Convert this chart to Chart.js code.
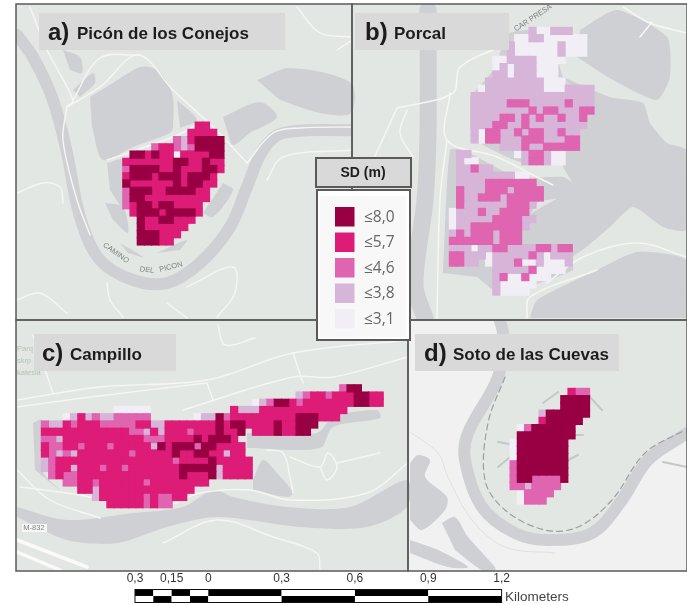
<!DOCTYPE html>
<html><head><meta charset="utf-8">
<style>html,body{margin:0;padding:0;background:#fff}canvas{display:block;filter:blur(0.45px)}</style>
<script src="https://cdn.jsdelivr.net/npm/chart.js@4"></script>
</head><body><canvas id="c" width="687" height="605"></canvas>
<script>
// ---------- DATA: SD class of every raster cell, per site (row = [first column, classes]) ----------
const classLabels = ['≤3,1','≤3,8','≤4,6','≤5,7','≤8,0'];
const classColors = ['#f1eef6','#d7b5d8','#df65b0','#dd1c77','#980043'];
const panelTitles = [['a)','Picón de los Conejos'],['b)','Porcal'],['c)','Campillo'],['d)','Soto de las Cuevas']];
const legendTitle = 'SD (m)';
const scaleKm = [-0.3,-0.225,-0.15,-0.075,0,0.3,0.6,0.9,1.2];
const scaleTicks = [[-0.3,'0,3'],[-0.15,'0,15'],[0,'0'],[0.3,'0,3'],[0.6,'0,6'],[0.9,'0,9'],[1.2,'1,2']];
const scaleUnit = 'Kilometers';

const picon = [
[10,"44"],[9,"4444"],[7,"3245555"],[4,"3443235555"],[1,"5545441444455"],[0,"44444445544544"],
[0,"35555445444554"],[0,"4555455545554"],[0,"5444444545544"],[0,"355544555544"],[0,"355444444444"],
[0,"34554554444"],[1,"4555455554"],[2,"54455444"],[2,"5444444"],[2,"555444"],[2,"55544"]];

const porcal = [
[11,"211222"],[9,"1122111111"],[8,"21111112111"],[8,"21111112111"],[6,"1122221111"],[6,"121222111"],
[6,"221222111"],[5,"22222222111"],[4,"1222222221112222"],[3,"22222222222222222"],
[3,"22222333222223222"],[3,"22222222323322233"],[3,"2222332323223223"],[3,"2223322322222222"],
[3,"213322323322322"],[3,"213322233322233"],[7,"22232233333"],
[1,"22......1233211"],[1,"211......233211"],[1,"22322"],[1,"2222222211"],[1,"22223333333"],
[1,"322233323333"],[1,"322333233333"],[1,"32222223332"],[0,"12223223333"],[0,"122222333322"],
[0,"12233333332"],[0,"2323332333"],[0,"3333332333"],[0,"22212233222233233"],
[0,"33222122222321222"],[0,"3322.122231121112"],[6,"2222231111"],[6,"23113111"],[6,"211111"],[6,"21111"]];

const campillo = [
[41,"355"],[35,"234434445544"],[29,"123554344444445544"],
[10,"11111...........4222444444444444"],
[3,"124232233333......12253444444444555444"],
[0,"32243444333334422444444454554444544555"],
[0,"4444444444443324244434445445.444544 55".replace(/ /g,'')],
[0,"332444444444443334444545554"],
[0,"4334434443444442545553554444"],
[0,"43232444444434444454455442 44".replace(/ /g,'')],
[0,"23444444444444444434444544444"],
[0,"23442444344344444445555524444"],
[1,"3433444444444444445444524444"],
[3,"33443444444344444444"],
[5,"4424444444444444"],
[7,"2444444343344"],
[9,"444443433"]];

const soto = [
[8,"433"],[7,"5555"],[7,"5555"],[4,"2555555"],[4,"455555"],[1,"13555555"],[1,"55555555"],
[0,"15555555"],[0,"15555555"],[0,"15555555"],[0,"35555555"],[0,"35555555"],[0,"35533335"],
[0,"3323333"],[1,"13333"],[1,"1333"]];

// ---------- BASE MAP outlines (reference units) ----------
const aWater = [[17,35],[33,57],[53,100],[67,153],[80,217],[100,260],[133,280],[167,283],[200,263],[230,227],[247,187],[263,150],[283,133],[352,130]];
const aGrey = [
[[90,97],[113,83],[140,67],[157,70],[172,93],[173,127],[170,133],[133,147],[103,160],[92,127]],
[[177,100],[197,120],[180,128]],
[[223,117],[260,102],[277,117],[250,133],[233,145],[227,130]],
[[257,80],[290,68],[351,83],[351,113],[320,113],[280,100]],
[[63,50],[80,57],[82,73],[70,70]],[[73,90],[93,73],[95,83],[80,97]],
[[107,163],[123,160],[123,207],[110,190]],[[105,203],[123,207],[128,233],[113,220]],
[[223,183],[233,190],[213,217],[203,213]],[[120,243],[143,257],[128,253]],[[157,253],[187,240],[180,250]]];
const aRoads = [
[[67,107],[100,87],[138,55],[173,90],[213,127],[247,163]],[[67,107],[73,100],[47,50],[30,7]],
[[107,160],[173,137],[197,125]],[[67,107],[63,140],[77,200],[90,235]],[[138,55],[100,58],[73,100]],
[[247,163],[273,133],[300,128],[352,127]],[[267,180],[283,157],[352,150]],
[[17,193],[43,183],[60,187],[63,203]],[[17,300],[40,293],[67,313]],[[107,283],[110,300],[123,317]],
[[167,303],[187,318]],[[187,287],[233,267],[235,293],[217,317]],[[297,7],[320,33],[352,37]],[[337,50],[352,40]]];

const bWater = [[428,10],[428,133],[425,200],[415,285],[425,318]];
const bGrey = [
[[580,30],[617,10],[667,37],[670,77],[657,100],[613,80],[577,57]],
[[563,77],[610,97],[643,103],[650,123],[667,143],[686,150],[686,230],[663,227],[633,207],[610,227],[570,257],[520,243],[530,215],[563,195],[572,183],[563,165],[583,140],[593,103],[580,97]],
[[530,318],[537,300],[597,270],[637,252],[686,260],[686,318]],
[[470,97],[493,70],[510,33],[550,33],[563,77],[580,97],[593,103],[583,140],[563,163],[523,163],[480,143],[470,127]],
[[443,273],[450,150],[463,150],[517,177],[563,177],[572,183],[563,197],[537,203],[527,233],[563,250],[573,270],[500,293],[477,277]]];
const bRoads = [
[[397,108],[453,93],[460,67],[510,43]],[[450,93],[447,140],[497,157],[537,177],[553,185]],
[[447,140],[440,200],[437,318]],[[397,108],[370,167]],[[407,110],[400,133],[413,157]],
[[527,318],[530,297],[597,270]],[[623,7],[650,23],[687,33]],[[652,22],[640,37]],
[[687,257],[637,243],[583,257],[547,283]]];

const cRiver = [[17,507],[67,520],[133,513],[183,507],[213,490],[233,497],[287,507],[350,507],[407,480],[407,507],[367,527],[300,527],[217,517],[167,527],[117,543],[67,540],[17,517]];
const cGrey = [
[[33,423],[42,420],[42,470],[60,490],[35,470]],
[[247,433],[317,433],[333,417],[377,410],[380,418],[333,427],[320,448],[247,448]],
[[253,480],[263,460],[277,473],[293,493],[287,497],[253,490]]];
const cRoads = [
[[17,400],[100,387],[207,380],[293,353],[408,340]],[[17,407],[83,398],[207,383]],
[[183,410],[293,377],[333,377],[408,357]],[[207,383],[213,400]],[[293,353],[303,383]],
[[20,487],[67,493],[160,507],[200,493],[250,490],[290,500],[367,493],[408,463]],
[[163,543],[217,520],[273,537],[317,553],[320,570]],[[267,450],[283,453],[290,477],[293,493]],
[[290,457],[320,467],[328,453],[337,467],[327,480],[320,467]],[[337,463],[380,453]],
[[33,335],[53,393]],[[218,325],[225,345],[255,338]],[[17,470],[50,500],[100,518]]];
const cHighway = [[[17,540],[87,567]],[[17,552],[60,570]]];

const dInner = [[502,321],[505,333],[500,377],[468,433],[465,460],[482,507],[515,533],[548,540],[592,533],[622,500],[648,460],[686,433],[686,321]];
const dWater = [[500,321],[503,333],[498,377],[468,433],[465,460],[482,507],[515,533],[548,540],[592,533],[622,500],[648,460],[687,433]];
const dDash = [[505,377],[488,423],[485,480],[505,510],[545,530],[578,527],[612,500],[645,453],[685,430]];
const dGrey = [
[[410,463],[418,455],[430,460],[425,477],[447,497],[445,510],[422,530],[410,520]],
[[442,523],[455,517],[468,537],[495,567],[495,570],[482,570],[455,550]],
[[410,540],[438,550],[468,567],[448,567],[410,553]]];
const dTwigs = [[[498,442],[515,445]],[[498,467],[515,453]],[[543,403],[558,392]],[[588,395],[602,410]],[[568,460],[578,455]],[[575,435],[583,435]],[[663,462],[687,467]]];
const dBank = [[410,432],[438,453],[448,477],[472,520],[505,547],[555,553]];

// ---------- LAYOUT ----------
const frames = {a:[16,4,352,320],b:[352,4,687,320],c:[16,320,408,571],d:[408,320,687,571]};
const titleBoxes = [[39,13,246,37,48,77],[355,13,154,37,365,394],[34,334,142,37,42,70],[415,334,204,37,424,453]];
const GREEN='#e3e7e3',GREY='#cfd0d3',ROAD='#f6f6f4',FRAME='#5a5a5a';
const W=687,H=605;

const ds=[];
const pts=a=>a.map(p=>({x:p[0],y:p[1]}));
const clipOf=f=>({left:-f[0],top:-f[1],right:-(W-f[2]),bottom:-(H-f[3])});
function poly(a,color,tension=0.3){ds.push({type:'line',data:pts(a),fill:'shape',backgroundColor:color,borderWidth:0,borderColor:color,pointRadius:0,tension});}
function path(a,color,width,f,tension=0.35,dash){ds.push({type:'line',data:pts(a),fill:false,borderColor:color,borderWidth:width,pointRadius:0,tension,clip:clipOf(f),borderDash:dash||[],borderCapStyle:'round'});}
function cells(rows,ox,oy,sx,sy){
  for(let k=0;k<5;k++){
    const data=[];
    rows.forEach((row,r)=>{[...row[1]].forEach((ch,i)=>{if(ch===String(k+1))data.push({x:ox+(row[0]+i+.5)*sx,y:oy+(r+.5)*sy});});});
    ds.push({type:'scatter',label:classLabels[k],data,showLine:false,pointStyle:'rect',pointRadius:(Math.max(sx,sy)+1)/Math.SQRT2,pointBorderWidth:0,pointBackgroundColor:classColors[k],clip:false});
  }
}
// panel a
aGrey.forEach(p=>poly(p,GREY)); path(aWater,GREY,12,frames.a); aRoads.forEach(p=>path(p,ROAD,1.4,frames.a));
// panel b
bGrey.forEach(p=>poly(p,GREY,0.2)); path(bWater,GREY,17,frames.b); bRoads.forEach(p=>path(p,ROAD,1.5,frames.b));
// panel c
poly(cRiver,GREY); cGrey.forEach(p=>poly(p,GREY)); cRoads.forEach(p=>path(p,ROAD,1.4,frames.c)); cHighway.forEach(p=>path(p,'#fafafa',3.5,frames.c,0));
// panel d
poly(dInner,GREEN); path(dBank,'#dfe0df',1,frames.d); dGrey.forEach(p=>poly(p,GREY)); path(dWater,GREY,12,frames.d);
path(dDash,'#9c9fa0',1.2,frames.d,0.35,[6,4]); dTwigs.forEach(p=>path(p,'#c3c9c9',2,frames.d,0));
// raster cells
cells(picon,122.7,122,7.24,7.24);
cells(porcal,449.3,27.3,7.24,7.24);
cells(campillo,41.3,384.7,7.277,7.24);
cells(soto,510,388.3,7.24,7.24);
// scale bar
for(let i=0;i<scaleKm.length-1;i++){
  const seg=[scaleKm[i],scaleKm[i+1]];
  const top=i%2===0;
  ds.push({type:'line',xAxisID:'km',data:seg.map(x=>({x,y:592.7})),borderColor:top?'#000':'#fff',borderWidth:6.5,borderCapStyle:'butt',pointRadius:0,fill:false,clip:false});
  ds.push({type:'line',xAxisID:'km',data:seg.map(x=>({x,y:599.3})),borderColor:top?'#fff':'#000',borderWidth:6.5,borderCapStyle:'butt',pointRadius:0,fill:false,clip:false});
}
ds.reverse();

const mapText = [['CAMINO',116,253,0.62],['DEL',147,270,0.12],['PICON',171,267,-0.25],['CAR PRESA',533,18,-0.58],['M-832',34,528,0]];

const paint={id:'paint',
  beforeDatasetsDraw(ch){
    const c=ch.ctx,X=ch.scales.x,Y=ch.scales.y;
    const rect=(f,col)=>{c.fillStyle=col;c.fillRect(X.getPixelForValue(f[0]),Y.getPixelForValue(f[1]),f[2]-f[0],f[3]-f[1]);};
    rect(frames.a,GREEN);rect(frames.b,GREEN);rect(frames.c,GREEN);rect(frames.d,'#f1f1f1');
  },
  afterDatasetsDraw(ch){
    const c=ch.ctx,X=ch.scales.x,Y=ch.scales.y,KM=ch.scales.km;
    c.save();
    c.fillStyle='#7d8283';c.font='7.5px "Liberation Sans"';c.textAlign='center';c.textBaseline='middle';
    c.save();c.fillStyle='#f8f8f8';c.fillRect(X.getPixelForValue(22),Y.getPixelForValue(524),25,8);c.restore();
    mapText.forEach(t=>{c.save();c.translate(X.getPixelForValue(t[1]),Y.getPixelForValue(t[2]));c.rotate(t[3]);c.fillText(t[0],0,0);c.restore();});
    c.fillStyle='#b4c4b4';c.textAlign='left';
    ['Parq','skrp','katesia'].forEach((t,i)=>c.fillText(t,17,349+i*12));
    c.strokeStyle=FRAME;c.lineWidth=1.5;
    [frames.a,frames.b,frames.c,frames.d].forEach(f=>c.strokeRect(f[0],f[1],f[2]-f[0],f[3]-f[1]));
    titleBoxes.forEach((b,i)=>{
      c.fillStyle='#d9d9d9';c.fillRect(b[0],b[1],b[2],b[3]);
      c.fillStyle='#1c1c1c';c.textAlign='left';c.textBaseline='alphabetic';
      c.font='bold 24px "Liberation Sans"';c.fillText(panelTitles[i][0],b[4],b[1]+27);
      c.font='bold 17px "Liberation Sans"';c.fillText(panelTitles[i][1],b[5],b[1]+26);
    });
    c.fillStyle='#d9d9d9';c.fillRect(316,158,95,29);c.strokeStyle=FRAME;c.lineWidth=2;c.strokeRect(316,158,95,29);
    c.fillStyle='#1c1c1c';c.font='bold 14px "Liberation Sans"';c.textAlign='center';c.textBaseline='middle';c.fillText(legendTitle,363,173);
    c.fillStyle='#fff';c.fillRect(317,190,93,150);c.strokeRect(317,190,93,150);
    c.fillStyle='#f8f8f8';c.fillRect(320,196,86,141);
    c.textAlign='left';c.font='15.5px "Open Sans"';
    for(let i=0;i<5;i++){
      const k=4-i,y=207+i*25.5;
      c.fillStyle=classColors[k];c.fillRect(335,y,19.5,19.5);
      c.fillStyle='#666';c.fillText(classLabels[k],364,y+10.5);
    }
    c.strokeStyle='#111';c.lineWidth=1;
    const xa=KM.getPixelForValue(-0.3),xb=KM.getPixelForValue(1.2);
    c.strokeRect(xa,589.5,xb-xa,13);
    c.fillStyle='#333';c.font='12px "Liberation Sans"';c.textAlign='center';c.textBaseline='middle';
    scaleTicks.forEach(t=>c.fillText(t[1],KM.getPixelForValue(t[0]),579));
    c.fillStyle='#444';c.textAlign='left';c.font='13.5px "Liberation Sans"';c.fillText(scaleUnit,505,597);
    c.restore();
  }};

new Chart(document.getElementById('c'),{
  data:{datasets:ds},
  options:{responsive:false,animation:false,events:[],layout:{padding:0,autoPadding:false},
    plugins:{legend:{display:false},tooltip:{enabled:false},title:{display:false}},
    scales:{
      x:{type:'linear',min:0,max:W,display:false},
      km:{type:'linear',axis:'x',min:-0.8523,max:1.9586,display:false},
      y:{type:'linear',min:0,max:H,reverse:true,display:false}
    }},
  plugins:[paint]
});
</script></body></html>
